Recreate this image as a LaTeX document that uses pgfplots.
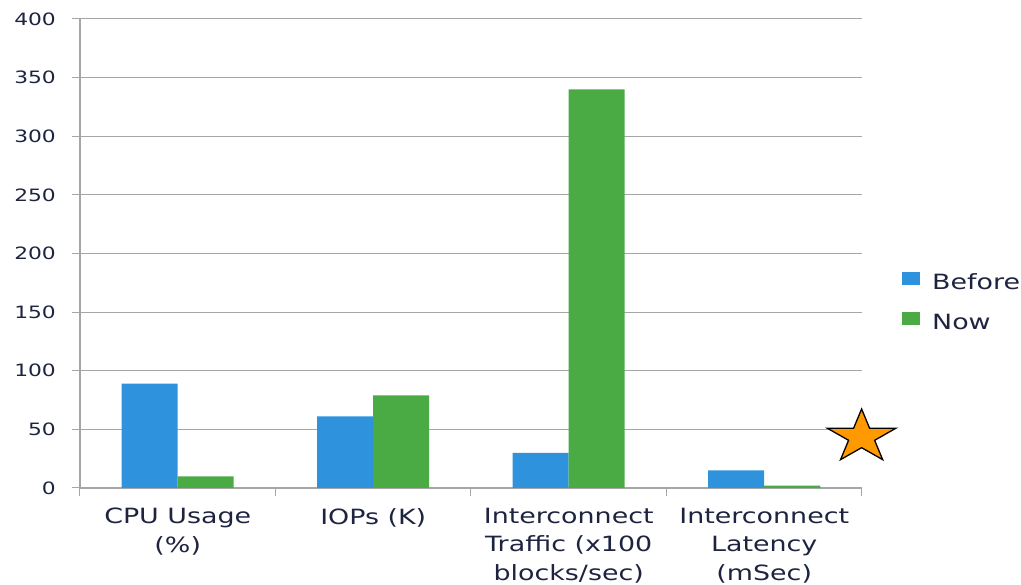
\documentclass[border=0pt]{standalone}
\usepackage{pgfplots}
\pgfplotsset{compat=1.18}
\usepackage{pgfplotstable}
\usepackage{fontspec}
\setmainfont{DejaVu Sans}[FakeStretch=1.28]
\usetikzlibrary{shapes.geometric}
\definecolor{cblue}{HTML}{2E93DC}
\definecolor{cgreen}{HTML}{4AAA44}
\definecolor{gridc}{HTML}{A6A6A6}
\definecolor{txt}{HTML}{1E2440}
\definecolor{starc}{HTML}{FF9900}

\pgfplotstableread{
x before now
0 89 10
1 61 79
2 30 340
3 15 2
}\datatable

\begin{document}
\begin{tikzpicture}
\path[use as bounding box] (-80pt,-97pt) rectangle (941pt,488pt);
\begin{axis}[
  at={(0pt,0pt)}, anchor=south west,
  scale only axis, width=782pt, height=469pt,
  ybar=0pt, bar width=56pt,
  xmin=-0.5, xmax=3.5, ymin=0, ymax=400,
  ytick={0,50,...,400},
  /pgf/number format/assume math mode=true,
  xtick={-0.5,0.5,1.5,2.5,3.5}, xticklabels={},
  extra x ticks={0,1,2,3},
  extra x tick labels={{CPU Usage\\(\%)},{IOPs (K)},{Interconnect\\Traffic (x100\\blocks/sec)},{Interconnect\\Latency\\(mSec)}},
  extra x tick style={major tick length=0pt},
  xticklabel style={align=center, anchor=north, inner sep=0pt, text=txt, font=\fontsize{21}{28.3}\selectfont, yshift=-20pt},
  yticklabel style={text=txt, font=\fontsize{17}{20}\selectfont, anchor=east, inner sep=0pt, xshift=-16pt},
  axis x line*=bottom, axis y line*=left,
  axis line style={gridc, line width=1.3pt, -},
  ymajorgrids, grid style={gridc, line width=1pt},
  tick align=outside, major tick length=8pt,
  tick style={gridc, line width=1pt},
  clip=false,
  legend style={draw=none, fill=none, at={(1.0473,0.394)}, anchor=west,
    font=\fontsize{21}{25}\selectfont, text=txt,
    nodes={inner xsep=12pt, inner ysep=0pt, text height=15pt, text depth=5pt},
    row sep=17pt},
  legend cell align=left,
  legend image code/.code={\fill[#1] (0pt,0pt) rectangle (18pt,13pt);},
]
\addplot[fill=cblue, draw=none] table[x=x, y=before] {\datatable};
\addplot[fill=cgreen, draw=none] table[x=x, y=now] {\datatable};
\legend{Before, Now}
\node[star, star points=5, star point ratio=2.618, draw=black, fill=starc,
  minimum size=56pt, inner sep=0pt, xscale=1.28, line width=1.3pt]
  at (axis cs:3.498,43.5) {};
\end{axis}
\end{tikzpicture}
\end{document}
